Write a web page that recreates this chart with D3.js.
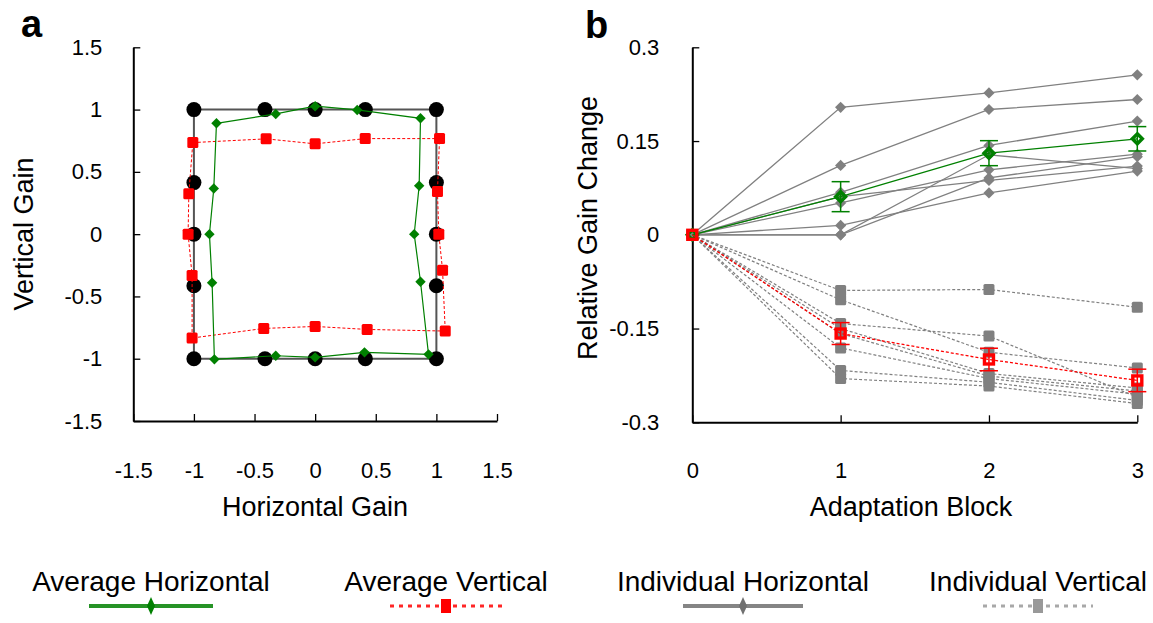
<!DOCTYPE html>
<html>
<head>
<meta charset="utf-8">
<script src="https://cdn.jsdelivr.net/npm/d3@7"></script>
<style>
  body { margin: 0; background: #fff; }
  text { font-family: Arial, "Liberation Sans", sans-serif; fill: #000; }
</style>
</head>
<body>
<svg id="chart" width="1153" height="623"></svg>
<script>
'use strict';

// ---- panel a : gain around the square path ----
var targetX = [-1, -0.414, 0, 0.414, 1, 1, 1, 1, 1, 0.414, 0, -0.414, -1, -1, -1, -1];
var targetY = [1, 1, 1, 1, 1, 0.414, 0, -0.414, -1, -1, -1, -1, -1, -0.414, 0, 0.414];

var avgHorizX = [-0.814, -0.325, 0, 0.347, 0.869, 0.858, 0.817, 0.869, 0.935, 0.407, 0, -0.325, -0.831, -0.85, -0.872, -0.836];
var avgHorizY = [0.89, 0.965, 1.027, 0.997, 0.93, 0.388, 0, -0.382, -0.965, -0.949, -0.989, -0.976, -1.005, -0.39, 0, 0.366];

var avgVertX = [-1.009, -0.404, 0, 0.413, 1.026, 1.009, 1.02, 1.051, 1.073, 0.429, 0, -0.424, -1.015, -1.015, -1.048, -1.042];
var avgVertY = [0.735, 0.765, 0.725, 0.767, 0.767, 0.342, 0, -0.289, -0.778, -0.765, -0.741, -0.757, -0.834, -0.332, 0, 0.324];

var gainTicks = [-1.5, -1, -0.5, 0, 0.5, 1, 1.5];

// ---- panel b : relative gain change per block ----
var blocks = [0, 1, 2, 3];
var changeTicks = [-0.3, -0.15, 0, 0.15, 0.3];

var indivHoriz = [
  [0, 0.204, 0.227, 0.256],
  [0, 0.111, 0.2005, 0.2165],
  [0, 0.068, 0.143, 0.182],
  [0, 0, 0.128, 0.106],
  [0, 0.051, 0.104, 0.129],
  [0, 0.015, 0.067, 0.102],
  [0, 0, 0.091, 0.125],
  [0, 0.061, 0.087, 0.110]
];
var indivVert = [
  [0, -0.089, -0.0875, -0.116],
  [0, -0.104, -0.188, -0.213],
  [0, -0.142, -0.162, -0.26],
  [0, -0.15, -0.222, -0.245],
  [0, -0.158, -0.226, -0.25],
  [0, -0.181, -0.23, -0.255],
  [0, -0.217, -0.236, -0.265],
  [0, -0.230, -0.242, -0.27]
];
var avgHoriz = [0, 0.061, 0.1306, 0.1536];
var avgHorizErr = [0, 0.024, 0.02, 0.0195];
var avgVert = [0, -0.158, -0.1995, -0.233];
var avgVertErr = [0, 0.0175, 0.018, 0.018];

var legendLabels = ['Average Horizontal', 'Average Vertical', 'Individual Horizontal', 'Individual Vertical'];

var green = '#008000', red = '#ff0000', grey = '#808080';
var svg = d3.select('#chart');

function diamond(r) {
  return 'M0,' + (-r) + 'L' + r + ',0L0,' + r + 'L' + (-r) + ',0Z';
}

function styleAxis(g) {
  g.selectAll('.domain').attr('stroke', '#000').attr('stroke-width', 2);
  g.selectAll('.tick line').attr('stroke', '#000').attr('stroke-width', 1.3);
  g.selectAll('.tick text').attr('font-size', 22).attr('font-family', 'Arial, "Liberation Sans", sans-serif');
}

// ================= panel a =================
var xA = d3.scaleLinear().domain([-1.5, 1.5]).range([133.3, 497]);
var yA = d3.scaleLinear().domain([-1.5, 1.5]).range([421, 47.3]);

svg.append('g').attr('transform', 'translate(0,421)')
  .call(d3.axisBottom(xA).tickValues(gainTicks).tickFormat(String).tickSizeInner(-7).tickSizeOuter(0).tickPadding(41))
  .call(styleAxis);
svg.append('g').attr('transform', 'translate(133.3,0)')
  .call(d3.axisLeft(yA).tickValues(gainTicks).tickFormat(String).tickSizeInner(-7).tickSizeOuter(0).tickPadding(31))
  .call(styleAxis);

var loopA = d3.line().curve(d3.curveLinearClosed);
var targetPts = targetX.map(function (d, i) { return [xA(d), yA(targetY[i])]; });
var horizPts = avgHorizX.map(function (d, i) { return [xA(d), yA(avgHorizY[i])]; });
var vertPts = avgVertX.map(function (d, i) { return [xA(d), yA(avgVertY[i])]; });

svg.append('path').attr('d', loopA(targetPts)).attr('fill', 'none')
  .attr('stroke', '#555').attr('stroke-width', 2);
svg.selectAll('circle.target').data(targetPts).enter().append('circle')
  .attr('class', 'target').attr('cx', function (d) { return d[0]; }).attr('cy', function (d) { return d[1]; })
  .attr('r', 7.5).attr('fill', '#000');

svg.append('path').attr('d', loopA(vertPts)).attr('fill', 'none')
  .attr('stroke', red).attr('stroke-width', 1).attr('stroke-dasharray', '3,2');
svg.selectAll('rect.avgv').data(vertPts).enter().append('rect')
  .attr('class', 'avgv').attr('x', function (d) { return d[0] - 5.5; }).attr('y', function (d) { return d[1] - 5.5; })
  .attr('width', 11).attr('height', 11).attr('rx', 1.5).attr('fill', red);

svg.append('path').attr('d', loopA(horizPts)).attr('fill', 'none')
  .attr('stroke', green).attr('stroke-width', 1.2);
svg.selectAll('path.avgh').data(horizPts).enter().append('path')
  .attr('class', 'avgh').attr('d', diamond(5.2))
  .attr('transform', function (d) { return 'translate(' + d[0] + ',' + d[1] + ')'; })
  .attr('fill', green);

svg.append('text').attr('x', 315).attr('y', 516).attr('text-anchor', 'middle')
  .attr('font-size', 27).text('Horizontal Gain');
svg.append('text').attr('transform', 'translate(33,234) rotate(-90)').attr('text-anchor', 'middle')
  .attr('font-size', 27).text('Vertical Gain');
svg.append('text').attr('x', 21).attr('y', 37).attr('font-size', 38).attr('font-weight', 'bold').text('a');

// ================= panel b =================
var xB = d3.scaleLinear().domain([0, 3]).range([692.3, 1137.3]);
var yB = d3.scaleLinear().domain([-0.3, 0.3]).range([422.3, 47.3]);

svg.append('g').attr('transform', 'translate(0,422.3)')
  .call(d3.axisBottom(xB).tickValues(blocks).tickFormat(String).tickSizeInner(-7).tickSizeOuter(0).tickPadding(40))
  .call(styleAxis);
svg.append('g').attr('transform', 'translate(692.3,0)')
  .call(d3.axisLeft(yB).tickValues(changeTicks).tickFormat(String).tickSizeInner(-7).tickSizeOuter(0).tickPadding(33))
  .call(styleAxis);

var lineB = d3.line().x(function (d, i) { return xB(blocks[i]); }).y(function (d) { return yB(d); });

// individual horizontal
svg.selectAll('path.ih').data(indivHoriz).enter().append('path')
  .attr('class', 'ih').attr('d', lineB).attr('fill', 'none')
  .attr('stroke', grey).attr('stroke-width', 1.3);
indivHoriz.forEach(function (s) {
  svg.selectAll(null).data(s).enter().append('path')
    .attr('d', diamond(5.6))
    .attr('transform', function (d, i) { return 'translate(' + xB(blocks[i]) + ',' + yB(d) + ')'; })
    .attr('fill', grey);
});

// individual vertical
svg.selectAll('path.iv').data(indivVert).enter().append('path')
  .attr('class', 'iv').attr('d', lineB).attr('fill', 'none')
  .attr('stroke', grey).attr('stroke-width', 1.2).attr('stroke-dasharray', '3,2');
indivVert.forEach(function (s) {
  svg.selectAll(null).data(s).enter().append('rect')
    .attr('x', function (d, i) { return xB(blocks[i]) - 5.5; })
    .attr('y', function (d) { return yB(d) - 5.5; })
    .attr('width', 11).attr('height', 11).attr('rx', 1.5)
    .attr('fill', grey);
});

function drawAverage(vals, errs, color, dashed, square) {
  var p = svg.append('path').attr('d', lineB(vals)).attr('fill', 'none')
    .attr('stroke', color).attr('stroke-width', 1.3);
  if (dashed) p.attr('stroke-dasharray', '3,2');
  vals.forEach(function (v, i) {
    if (!errs[i]) return;
    var x = xB(blocks[i]);
    var g = svg.append('g').attr('stroke', color).attr('stroke-width', 1.5);
    g.append('line').attr('x1', x).attr('x2', x).attr('y1', yB(v + errs[i])).attr('y2', yB(v - errs[i]));
    g.append('line').attr('x1', x - 9).attr('x2', x + 9).attr('y1', yB(v + errs[i])).attr('y2', yB(v + errs[i]));
    g.append('line').attr('x1', x - 9).attr('x2', x + 9).attr('y1', yB(v - errs[i])).attr('y2', yB(v - errs[i]));
  });
  vals.forEach(function (v, i) {
    var x = xB(blocks[i]), y = yB(v);
    if (square) {
      svg.append('rect').attr('x', x - 4.5).attr('y', y - 4.5).attr('width', 9).attr('height', 9)
        .attr('fill', 'none').attr('stroke', color).attr('stroke-width', 3.4);
    } else {
      svg.append('path').attr('d', diamond(5)).attr('transform', 'translate(' + x + ',' + y + ')')
        .attr('fill', 'none').attr('stroke', color).attr('stroke-width', 3.4);
    }
  });
}
drawAverage(avgHoriz, avgHorizErr, green, false, false);
drawAverage(avgVert, avgVertErr, red, true, true);

svg.append('text').attr('x', 911).attr('y', 516).attr('text-anchor', 'middle')
  .attr('font-size', 27).text('Adaptation Block');
svg.append('text').attr('transform', 'translate(597,228) rotate(-90)').attr('text-anchor', 'middle')
  .attr('font-size', 27).text('Relative Gain Change');
svg.append('text').attr('x', 585).attr('y', 38).attr('font-size', 38).attr('font-weight', 'bold').text('b');

// ================= legend =================
var legendX = [151, 446, 743, 1038];
var legendHalf = [62, 56, 60, 55];
var legendColor = [green, red, '#707070', '#999'];
var legend = svg.selectAll('g.leg').data(legendLabels).enter().append('g')
  .attr('class', 'leg')
  .attr('transform', function (d, i) { return 'translate(' + legendX[i] + ',0)'; });
legend.append('text').attr('x', 0).attr('y', 591).attr('text-anchor', 'middle')
  .attr('font-size', 28).text(function (d) { return d; });
legend.append('line')
  .attr('x1', function (d, i) { return -legendHalf[i]; })
  .attr('x2', function (d, i) { return legendHalf[i]; })
  .attr('y1', 606).attr('y2', 606)
  .attr('stroke', function (d, i) { return legendColor[i]; })
  .attr('stroke-width', function (d, i) { return i % 2 ? 3 : 4; })
  .attr('stroke-opacity', 0.85)
  .attr('stroke-dasharray', function (d, i) { return i % 2 ? '4,5' : null; });
legend.append('path')
  .attr('d', function (d, i) { return i % 2 ? 'M-5,-7h10v14h-10Z' : 'M0,-9L4,0L0,9L-4,0Z'; })
  .attr('transform', 'translate(0,606)')
  .attr('fill', function (d, i) { return legendColor[i]; });
</script>
</body>
</html>
